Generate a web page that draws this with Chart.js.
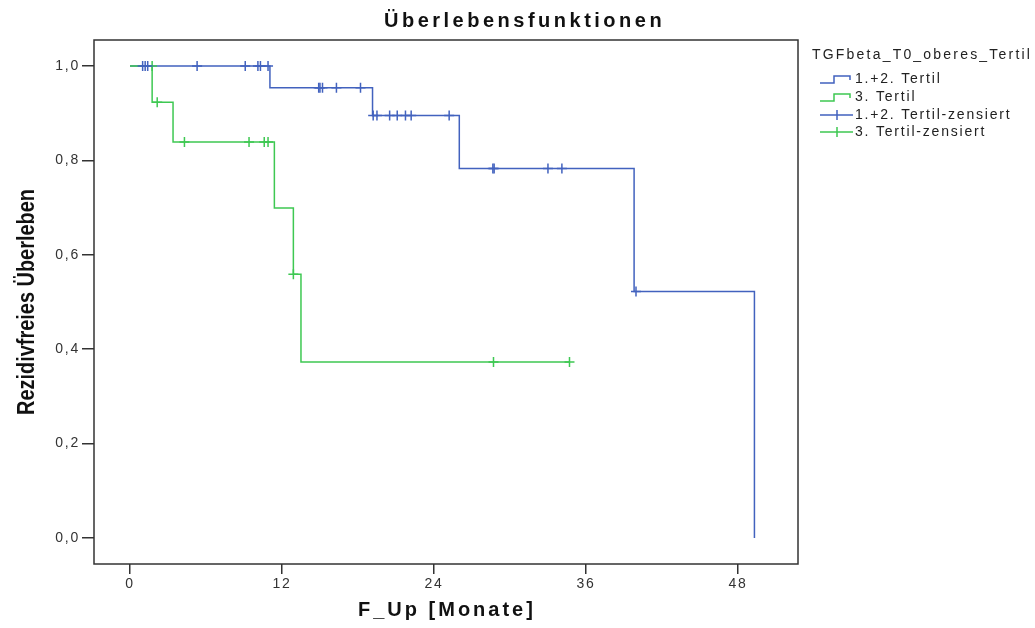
<!DOCTYPE html>
<html>
<head>
<meta charset="utf-8">
<script src="https://cdn.jsdelivr.net/npm/chart.js@4/dist/chart.umd.min.js"></script>
<style>
  body { margin: 0; background: #fff; }
  #wrap { width: 1035px; height: 628px; }
</style>
</head>
<body>
<div id="wrap"><canvas id="km" width="1035" height="628"></canvas></div>
<script>
// Kaplan-Meier steps (time in months, survival after the event)
const blueTimes = [0, 11.05, 19.15, 26.0, 39.8, 49.3];
const blueSurv = [1, 0.954, 0.895, 0.783, 0.522, 0];
const greenTimes = [0, 1.75, 3.4, 11.4, 12.9, 13.5, 34.7];
const greenSurv = [1, 0.923, 0.839, 0.699, 0.559, 0.373, 0.373];

// censored cases
const blueCensorTimes = [1.0, 1.2, 1.4, 5.3, 9.1, 10.1, 10.3, 10.9,
  14.9, 15.0, 15.2, 16.3, 18.2,
  19.2, 19.5, 20.5, 21.1, 21.75, 22.2, 25.2,
  28.65, 28.75, 33.0, 34.1, 39.95];
const blueCensorSurv = [1, 1, 1, 1, 1, 1, 1, 1,
  0.954, 0.954, 0.954, 0.954, 0.954,
  0.895, 0.895, 0.895, 0.895, 0.895, 0.895, 0.895,
  0.783, 0.783, 0.783, 0.783, 0.522];
const greenCensorTimes = [1.75, 2.15, 4.3, 9.4, 10.6, 10.9, 12.9, 28.7, 34.7];
const greenCensorSurv = [1, 0.923, 0.839, 0.839, 0.839, 0.839, 0.559, 0.373, 0.373];

const xTicks = [0, 12, 24, 36, 48];
const yTicks = [0, 0.2, 0.4, 0.6, 0.8, 1.0];

const seriesLabels = ['1.+2. Tertil', '3. Tertil', '1.+2. Tertil-zensiert', '3. Tertil-zensiert'];
const legendTitle = 'TGFbeta_T0_oberes_Tertil';
const chartTitle = 'Überlebensfunktionen';
const xTitle = 'F_Up [Monate]';
const yTitle = 'Rezidivfreies Überleben';

const BLUE = 'rgb(66, 98, 190)';
const GREEN = 'rgb(62, 200, 82)';
const SANS = '"Liberation Sans", Arial, sans-serif';

const pts = (xs, ys) => xs.map((x, i) => ({ x: x, y: ys[i] }));

const framePlugin = {
  id: 'frame',
  beforeDraw(chart) {
    const ctx = chart.ctx;
    ctx.fillStyle = '#fff';
    ctx.fillRect(0, 0, chart.width, chart.height);
    ctx.letterSpacing = '1.8px';
  },
  afterDraw(chart) {
    const ctx = chart.ctx;
    const a = chart.chartArea;
    ctx.save();
    ctx.strokeStyle = '#333';
    ctx.lineWidth = 1.5;
    ctx.strokeRect(a.left, a.top, a.right - a.left, a.bottom - a.top);

    // titles
    ctx.fillStyle = '#111';
    ctx.textBaseline = 'middle';
    ctx.textAlign = 'left';
    ctx.font = 'bold 20px ' + SANS;
    ctx.letterSpacing = '3.5px';
    ctx.fillText(chartTitle, 384, 21);
    ctx.letterSpacing = '3px';
    ctx.fillText(xTitle, 358, 610);

    // y title is a condensed bold face in the original
    ctx.save();
    ctx.translate(27, 302);
    ctx.rotate(-Math.PI / 2);
    ctx.scale(0.83, 1);
    ctx.textAlign = 'center';
    ctx.letterSpacing = '0px';
    ctx.font = 'bold 24px ' + SANS;
    ctx.fillText(yTitle, 0, 0);
    ctx.restore();

    // legend
    ctx.font = '14px ' + SANS;
    ctx.letterSpacing = '2.2px';
    ctx.fillStyle = '#222';
    ctx.fillText(legendTitle, 812, 55);
    ctx.letterSpacing = '1.8px';
    const rows = [79, 97, 115, 132];
    const cols = [BLUE, GREEN, BLUE, GREEN];
    rows.forEach((y, i) => {
      ctx.strokeStyle = cols[i];
      ctx.lineWidth = 1.5;
      ctx.beginPath();
      if (i < 2) {
        ctx.moveTo(820, y + 4);
        ctx.lineTo(834, y + 4);
        ctx.lineTo(834, y - 3);
        ctx.lineTo(850, y - 3);
        ctx.lineTo(850, y + 1);
      } else {
        ctx.moveTo(820, y);
        ctx.lineTo(853, y);
        ctx.moveTo(837, y - 5);
        ctx.lineTo(837, y + 5);
      }
      ctx.stroke();
      ctx.fillText(seriesLabels[i], 855, y);
    });
    ctx.restore();
  }
};

new Chart(document.getElementById('km'), {
  type: 'scatter',
  data: {
    datasets: [
      {
        label: seriesLabels[0],
        data: pts(blueTimes, blueSurv),
        showLine: true,
        stepped: 'before',
        borderColor: BLUE,
        borderWidth: 1.5,
        pointRadius: 0,
        order: 2
      },
      {
        label: seriesLabels[1],
        data: pts(greenTimes, greenSurv),
        showLine: true,
        stepped: 'before',
        borderColor: GREEN,
        borderWidth: 1.5,
        pointRadius: 0,
        order: 1
      },
      {
        label: seriesLabels[2],
        data: pts(blueCensorTimes, blueCensorSurv),
        showLine: false,
        pointStyle: 'cross',
        pointRadius: 5,
        borderColor: BLUE,
        borderWidth: 1.5,
        order: 0
      },
      {
        label: seriesLabels[3],
        data: pts(greenCensorTimes, greenCensorSurv),
        showLine: false,
        pointStyle: 'cross',
        pointRadius: 5,
        borderColor: GREEN,
        borderWidth: 1.5,
        order: 0
      }
    ]
  },
  options: {
    responsive: false,
    animation: false,
    layout: { padding: { top: 40, right: 237, bottom: 0, left: 0 } },
    plugins: {
      legend: { display: false },
      title: { display: false },
      tooltip: { enabled: false }
    },
    scales: {
      x: {
        type: 'linear',
        min: -2.84,
        max: 52.74,
        afterBuildTicks: s => { s.ticks = xTicks.map(v => ({ value: v })); },
        afterFit: s => { s.height = 64; },
        border: { display: false },
        grid: { drawOnChartArea: false, drawTicks: true, tickLength: 10, color: '#333', lineWidth: 1.5 },
        ticks: { color: '#333', font: { family: SANS, size: 14 }, padding: 2, maxRotation: 0 }
      },
      y: {
        type: 'linear',
        min: -0.055,
        max: 1.055,
        afterBuildTicks: s => { s.ticks = yTicks.map(v => ({ value: v })); },
        afterFit: s => { s.width = 94; },
        border: { display: false },
        grid: { drawOnChartArea: false, drawTicks: true, tickLength: 12, color: '#333', lineWidth: 1.5 },
        ticks: {
          color: '#333',
          font: { family: SANS, size: 14 },
          padding: 2,
          callback: v => v.toFixed(1).replace('.', ',')
        }
      }
    }
  },
  plugins: [framePlugin]
});
</script>
</body>
</html>
